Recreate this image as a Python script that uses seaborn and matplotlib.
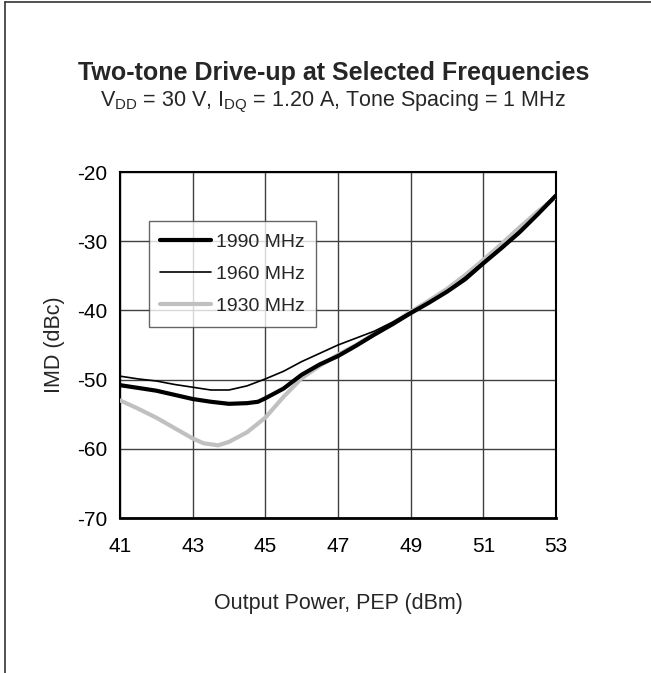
import matplotlib
matplotlib.use("Agg")
import matplotlib.pyplot as plt
import seaborn as sns
import pandas as pd
from matplotlib.lines import Line2D

# ---- data ----
pout_1990 = [41, 41.5, 42, 42.5, 43, 43.5, 44, 44.5, 44.8, 45, 45.5, 46, 46.5, 47, 47.5, 48,
             48.5, 49, 49.5, 50, 50.5, 51, 51.5, 52, 52.5, 53]
imd_1990 = [-50.8, -51.2, -51.6, -52.2, -52.8, -53.2, -53.5, -53.4, -53.2, -52.7, -51.3, -49.3,
            -47.8, -46.6, -45.1, -43.5, -42.0, -40.4, -38.9, -37.3, -35.5, -33.2, -31.0, -28.7,
            -26.1, -23.4]

pout_1960 = [41, 41.5, 42, 42.5, 43, 43.5, 44, 44.5, 45, 45.5, 46, 46.5, 47, 47.5, 48,
             48.5, 49, 49.5, 50, 50.5, 51, 51.5, 52, 52.5, 53]
imd_1960 = [-49.5, -49.9, -50.2, -50.7, -51.1, -51.5, -51.5, -50.9, -49.9, -48.8, -47.4, -46.2,
            -45.0, -44.0, -43.0, -41.7, -40.2, -38.8, -37.2, -35.2, -33.0, -30.8, -28.5, -26.0,
            -23.2]

pout_1930 = [41, 41.5, 42, 42.5, 43, 43.3, 43.7, 44, 44.5, 45, 45.5, 46, 46.5, 47, 47.5, 48,
             48.5, 49, 49.5, 50, 50.5, 51, 51.5, 52, 52.5, 53]
imd_1930 = [-53.0, -54.2, -55.5, -57.0, -58.5, -59.2, -59.5, -59.0, -57.6, -55.5, -52.5, -49.8,
            -48.0, -46.4, -45.0, -43.4, -41.9, -40.2, -38.6, -36.9, -34.9, -32.7, -30.4, -28.0,
            -25.7, -23.6]

series_labels = ["1990 MHz", "1960 MHz", "1930 MHz"]
x_ticks = [41, 43, 45, 47, 49, 51, 53]
y_ticks = [-70, -60, -50, -40, -30, -20]

# ---- styling ----
sns.set_style("white")
plt.rcParams["font.family"] = ["Liberation Sans", "DejaVu Sans"]
plt.rcParams["axes.unicode_minus"] = False

fig = plt.figure(figsize=(6.51, 6.73), dpi=100)
ax = fig.add_axes([0.1843, 0.2303, 0.6697, 0.5141])

styles = {
    "1990 MHz": dict(color="black", lw=3.0),
    "1960 MHz": dict(color="black", lw=1.2),
    "1930 MHz": dict(color="#c0c0c0", lw=3.0),
}
frames = [
    pd.DataFrame({"x": pout_1990, "y": imd_1990}),
    pd.DataFrame({"x": pout_1960, "y": imd_1960}),
    pd.DataFrame({"x": pout_1930, "y": imd_1930}),
]
order = [2, 1, 0]
for i in order:
    lab = series_labels[i]
    sns.lineplot(data=frames[i], x="x", y="y", ax=ax, sort=False, estimator=None,
                 color=styles[lab]["color"], linewidth=styles[lab]["lw"], label=lab,
                 solid_joinstyle="round", zorder=3 + (2 - i))

ax.set_xlim(41, 53)
ax.set_ylim(-70, -20)
ax.set_xticks(x_ticks)
ax.set_yticks(y_ticks)
ax.tick_params(axis="both", length=0, labelsize=15, colors="black")
ax.tick_params(axis="x", pad=14)
ax.tick_params(axis="y", pad=9)
ax.grid(True, color="#404040", linewidth=1.0)
ax.set_axisbelow(True)
for s in ax.spines.values():
    s.set_color("black")
    s.set_linewidth(1.5)
ax.spines["bottom"].set_linewidth(2.0)

ax.set_xlabel("Output Power, PEP (dBm)", fontsize=15.5, labelpad=26)
ax.set_ylabel("IMD (dBc)", fontsize=15.5, labelpad=9)

h, l = ax.get_legend_handles_labels()
hd = dict(zip(l, h))
leg = ax.legend([hd[k] for k in series_labels], series_labels, loc="upper left",
                bbox_to_anchor=(0.066, 0.857), fontsize=14, frameon=True, fancybox=False,
                handlelength=2.6, handletextpad=0.25, labelspacing=0.75,
                borderpad=0.6, borderaxespad=0.0)
leg.get_frame().set_edgecolor("#404040")
leg.get_frame().set_linewidth(1.0)

fig.text(0.512, 0.892, "Two-tone Drive-up at Selected Frequencies", ha="center", va="center",
         fontsize=18, fontweight="bold")
fig.text(0.512, 0.848, r"V$_{\mathregular{DD}}$ = 30 V, I$_{\mathregular{DQ}}$ = 1.20 A, Tone Spacing = 1 MHz",
         ha="center", va="center", fontsize=15.5)

# outer frame (top and left edges visible)
fig.add_artist(Line2D([0.007, 0.007], [0.0, 0.997], transform=fig.transFigure, color="#333333", lw=1.2))
fig.add_artist(Line2D([0.007, 1.0], [0.997, 0.997], transform=fig.transFigure, color="#333333", lw=1.2))

fig.savefig("out.png", dpi=100)
